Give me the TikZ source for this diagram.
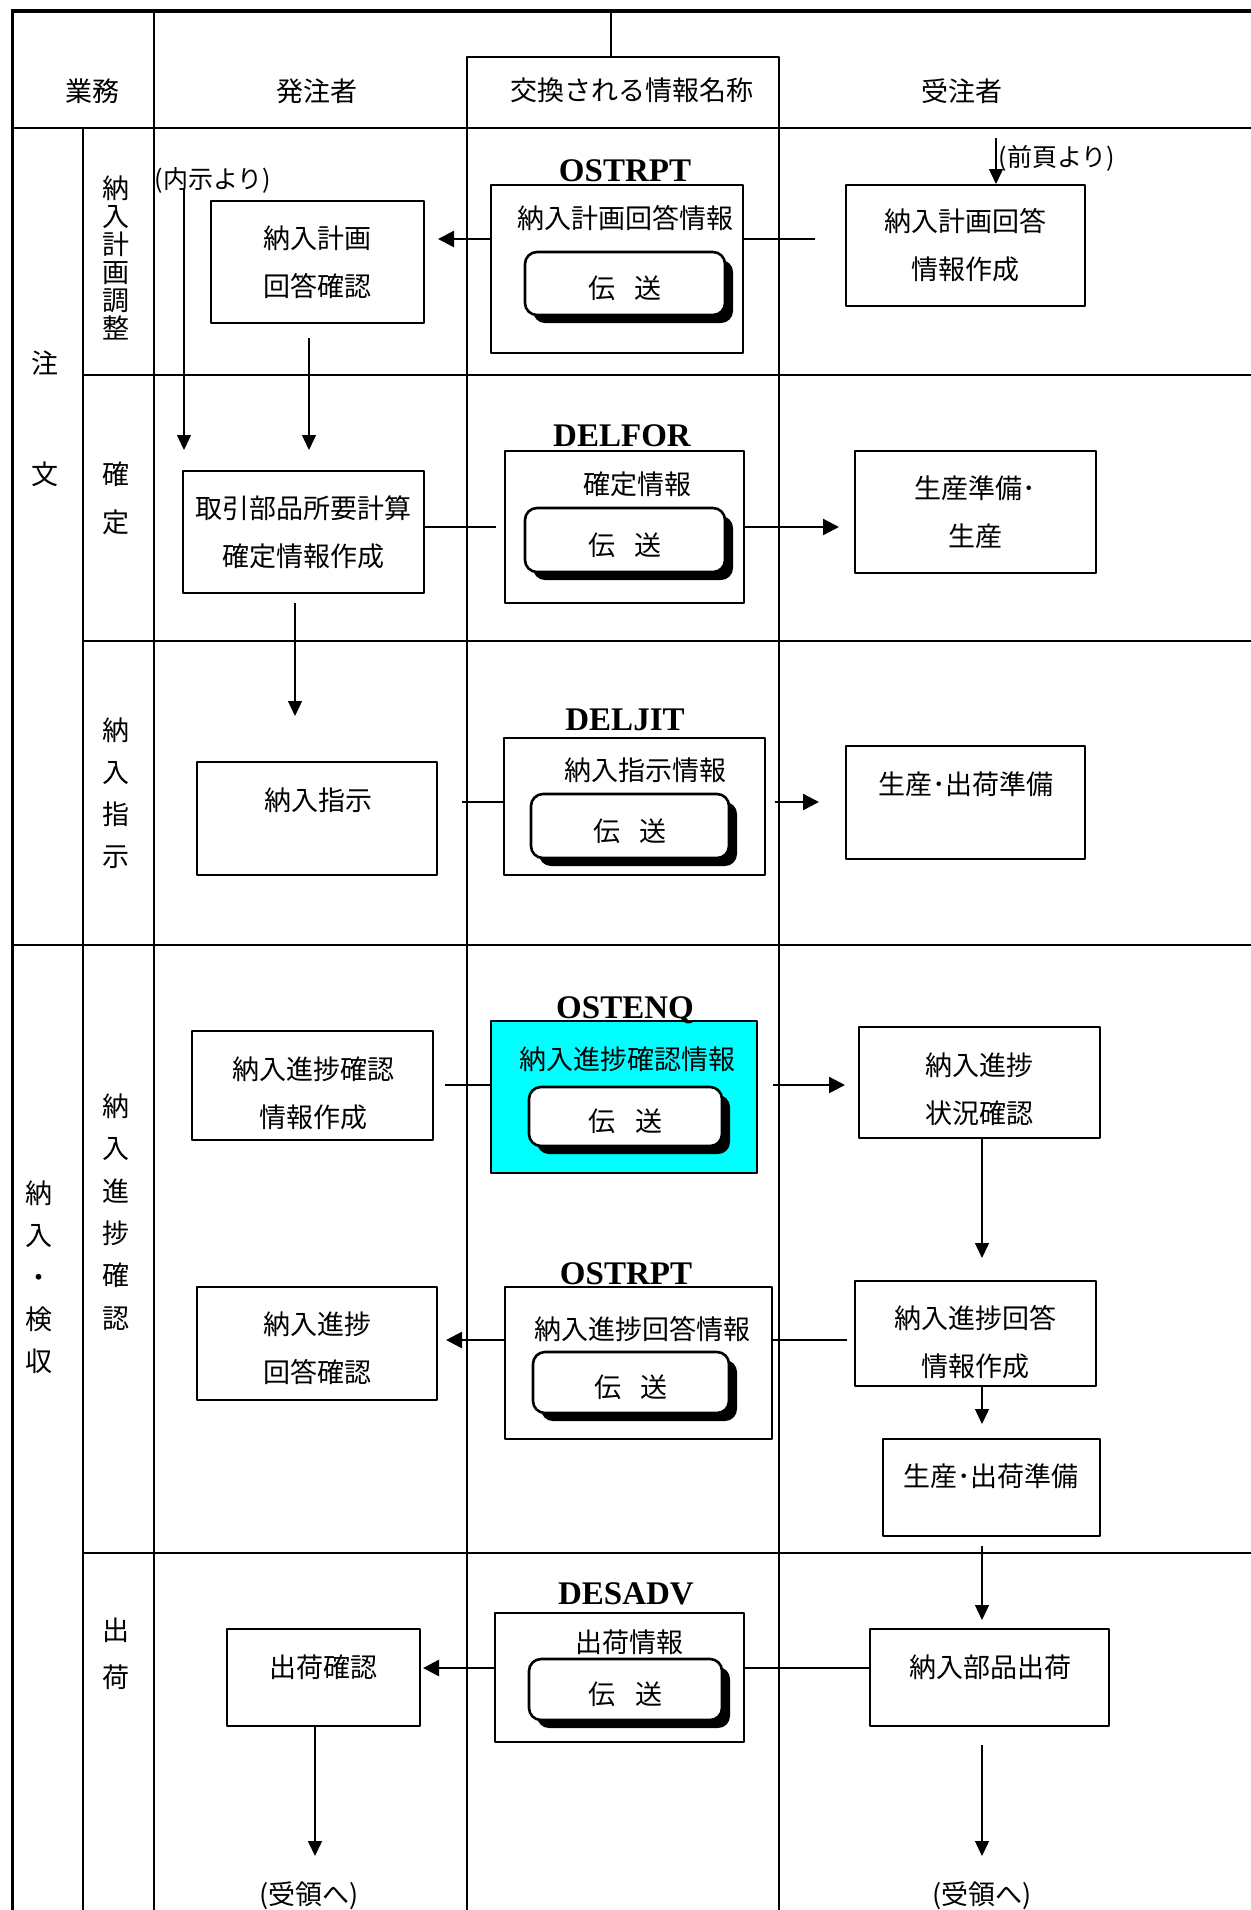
\documentclass[tikz,border=0pt]{standalone}
\usepackage{fontspec}
\newfontfamily\jfont{Noto Sans CJK JP}
\newfontfamily\efont{Liberation Serif}
\usetikzlibrary{arrows.meta,shadows}
\definecolor{infocyan}{RGB}{0,255,255}
\newcommand\sendtext{\raisebox{-2.6bp}[\height][\depth]{伝\hspace{10bp}送}}
\tikzset{
  jtext/.style={font=\jfont\fontsize{13.5bp}{24bp}\selectfont,align=center,inner sep=0pt},
  ptext/.style={font=\jfont\fontsize{12.5bp}{14bp}\selectfont,inner sep=0pt},
  vlabel/.style={font=\jfont\fontsize{13.5bp}{#1}\selectfont,align=center,inner sep=0pt},
  msgname/.style={font=\efont\bfseries\fontsize{16.5bp}{18bp}\selectfont,inner sep=0pt,text height=11.5bp,text depth=0pt},
  procbox/.style={draw,line width=1bp,inner sep=0pt},
  infobox/.style={draw,line width=0.7bp,inner sep=0pt},
  sendbox/.style={jtext,draw,line width=1.3bp,fill=white,rounded corners=6bp,
    drop shadow={shadow xshift=4bp,shadow yshift=-4bp,fill=black,opacity=1}},
  flow/.style={line width=1.2bp,>={Triangle[length=8bp,width=8bp]}},
  downflow/.style={line width=0.7bp,>={Triangle[length=7.5bp,width=7bp]}},
  tabline/.style={line width=0.8bp},
  rowline/.style={line width=1.2bp},
}
\begin{document}
\begin{tikzpicture}[x=1bp,y=-1bp,>=latex,line join=bevel]
\useasboundingbox (0,0) rectangle (625.5,955);
%% table frame
\draw[line width=2bp] (5.25,5.5) -- (625.5,5.5);
\draw[line width=1.5bp] (6,4.5) -- (6,955);
\draw[rowline] (6,64) -- (625.5,64);
\draw[tabline] (77,5.5) -- (77,955);
\draw[tabline] (305.5,5.5) -- (305.5,28.5);
\draw[tabline] (233.5,955) -- (233.5,28.5) -- (389.5,28.5) -- (389.5,955);
\draw[tabline] (41.5,64) -- (41.5,955);
\draw[rowline] (41.5,187.5) -- (625.5,187.5);
\draw[rowline] (41.5,320.5) -- (625.5,320.5);
\draw[rowline] (6,472.5) -- (625.5,472.5);
\draw[rowline] (41.5,776.5) -- (625.5,776.5);
%% header
\node (node_h0) at (46,45.5) [jtext] {業務};
\node (node_h1) at (158.5,45.5) [jtext] {発注者};
\node (node_h2) at (316,45) [jtext] {交換される情報名称};
\node (node_h3) at (481,45.5) [jtext] {受注者};
%% left labels
\node (node_l0) at (22.5,209.25) [vlabel=55.5bp] {注\\文};
\node (node_l1) at (19.5,638.5) [vlabel=21bp] {納\\入\\・\\検\\収};
\node (node_l2) at (58,129) [vlabel=14bp] {納\\入\\計\\画\\調\\整};
\node (node_l3) at (58,249) [vlabel=24bp] {確\\定};
\node (node_l4) at (58,396.75) [vlabel=21bp] {納\\入\\指\\示};
\node (node_l5) at (58,606) [vlabel=21.2bp] {納\\入\\進\\捗\\確\\認};
\node (node_l6) at (58,826.75) [vlabel=23.5bp] {出\\荷};
%% row 1
\node (node_info1) at (308.5,134.5) [infobox,minimum width=126bp,minimum height=84bp] {};
\node (node_msg1) at (312.5,85) [msgname] {OSTRPT};
\node (node_t1) at (312.5,109) [jtext] {納入計画回答情報};
\node (node_send1) at (312.5,141.75) [sendbox,minimum width=100bp,minimum height=31.5bp] {\sendtext};
\node (node_box1) at (158.75,131) [procbox,minimum width=106.5bp,minimum height=61bp,jtext] {納入計画\\回答確認};
\node (node_box2) at (482.75,122.75) [procbox,minimum width=119.5bp,minimum height=60.5bp,jtext] {納入計画回答\\情報作成};
\node (node_prev) at (528.5,79) [ptext] {(前頁より)};
\node (node_naiji) at (106.5,90) [ptext] {(内示より)};
\coordinate (node_c1) at (407.5,119.5);
\draw[flow] (node_c1) -- (node_c1 -| node_info1.east);
\draw[flow,->,shorten >=6.5bp] (node_c1 -| node_info1.west) -- (node_c1 -| node_box1.east);
\coordinate (node_c3) at (498,69);
\draw[downflow,->] (node_c3) -- (node_c3 |- node_box2.north);
\coordinate (node_c4) at (92,94);
\coordinate (node_c5) at (92,225);
\draw[downflow,->] (node_c4) -- (node_c5);
\coordinate (node_c6) at (154.5,225);
\draw[downflow,->,shorten <=7bp] (node_c6 |- node_box1.south) -- (node_c6);
%% row 2
\node (node_info2) at (312.25,263.5) [infobox,minimum width=119.5bp,minimum height=76bp] {};
\node (node_msg2) at (311,217.5) [msgname] {DELFOR};
\node (node_t2) at (318.5,242) [jtext] {確定情報};
\node (node_send2) at (312.5,270) [sendbox,minimum width=100bp,minimum height=32bp] {\sendtext};
\node (node_box3) at (151.75,266) [procbox,minimum width=120.5bp,minimum height=61bp,jtext] {取引部品所要計算\\確定情報作成};
\node (node_box4) at (487.75,256) [procbox,minimum width=120.5bp,minimum height=61bp,jtext] {生産準備･\\生産};
\coordinate (node_c2) at (248,263.5);
\draw[flow] (node_c2 -| node_box3.east) -- (node_c2);
\draw[flow,->,shorten >=7.5bp] (node_info2.east) -- (node_info2.east -| node_box4.west);
\coordinate (node_c7) at (147.5,358);
\draw[downflow,->,shorten <=4.5bp] (node_c7 |- node_box3.south) -- (node_c7);
%% row 3
\node (node_info3) at (317.25,403.25) [infobox,minimum width=130.5bp,minimum height=68.5bp] {};
\node (node_msg3) at (312.5,359.5) [msgname] {DELJIT};
\node (node_t3) at (322.5,385) [jtext] {納入指示情報};
\node (node_send3) at (315,413) [sendbox,minimum width=99bp,minimum height=32bp] {\sendtext};
\node (node_box5) at (158.5,409.25) [procbox,minimum width=120bp,minimum height=56.5bp] {};
\node (node_t5) at (159,400) [jtext] {納入指示};
\node (node_box6) at (482.75,401.25) [procbox,minimum width=119.5bp,minimum height=56.5bp] {};
\node (node_t6) at (483,392) [jtext] {生産･出荷準備};
\coordinate (node_c8) at (231,401);
\draw[flow] (node_c8) -- (node_c8 -| node_info3.west);
\draw[flow,->,shorten <=4.5bp,shorten >=13bp] (node_c8 -| node_info3.east) -- (node_c8 -| node_box6.west);
%% row 4
\node (node_info4) at (312,548.5) [infobox,fill=infocyan,minimum width=133bp,minimum height=76bp] {};
\node (node_msg4) at (312.5,503.5) [msgname] {OSTENQ};
\node (node_t4) at (313.5,529.5) [jtext] {納入進捗確認情報};
\node (node_send4) at (312.75,558.25) [sendbox,minimum width=96.5bp,minimum height=29.5bp] {\sendtext};
\node (node_box7) at (156.25,542.75) [procbox,minimum width=120.5bp,minimum height=54.5bp] {};
\node (node_t12) at (156.5,546.5) [jtext] {納入進捗確認\\情報作成};
\node (node_box8) at (489.75,541.25) [procbox,minimum width=120.5bp,minimum height=55.5bp] {};
\node (node_t13) at (489.75,544.5) [jtext] {納入進捗\\状況確認};
\coordinate (node_c9) at (222.5,542.5);
\draw[flow] (node_c9) -- (node_c9 -| node_info4.west);
\draw[flow,->,shorten <=7.5bp,shorten >=6.5bp] (node_c9 -| node_info4.east) -- (node_c9 -| node_box8.west);
\coordinate (node_c10) at (491,629);
\draw[downflow,->] (node_c10 |- node_box8.south) -- (node_c10);
\node (node_info5) at (319.25,681.5) [infobox,minimum width=133.5bp,minimum height=76bp] {};
\node (node_msg5) at (313,636.5) [msgname] {OSTRPT};
\node (node_t7) at (321,664.5) [jtext] {納入進捗回答情報};
\node (node_send5) at (315.5,691.25) [sendbox,minimum width=98bp,minimum height=30.5bp] {\sendtext};
\node (node_box9) at (158.5,671.75) [procbox,minimum width=120bp,minimum height=56.5bp] {};
\node (node_t14) at (158.5,674) [jtext] {納入進捗\\回答確認};
\node (node_box10) at (487.75,666.75) [procbox,minimum width=120.5bp,minimum height=52.5bp] {};
\node (node_t15) at (487.75,671) [jtext] {納入進捗回答\\情報作成};
\node (node_box11) at (495.75,743.75) [procbox,minimum width=108.5bp,minimum height=48.5bp] {};
\node (node_t8) at (495.5,738) [jtext] {生産･出荷準備};
\coordinate (node_c11) at (423.5,670);
\draw[flow] (node_c11) -- (node_c11 -| node_info5.east);
\draw[flow,->,shorten >=4bp] (node_c11 -| node_info5.west) -- (node_c11 -| node_box9.east);
\coordinate (node_c12) at (491,712);
\draw[downflow,->] (node_c12 |- node_box10.south) -- (node_c12);
\coordinate (node_c13) at (491,810);
\draw[downflow,->,shorten <=4.5bp] (node_c13 |- node_box11.south) -- (node_c13);
%% row 5
\node (node_info6) at (309.75,838.75) [infobox,minimum width=124.5bp,minimum height=64.5bp] {};
\node (node_msg6) at (313,796.5) [msgname] {DESADV};
\node (node_t9) at (314.5,821) [jtext] {出荷情報};
\node (node_send6) at (312.75,844.75) [sendbox,minimum width=96.5bp,minimum height=30.5bp] {\sendtext};
\node (node_box13) at (161.75,838.75) [procbox,minimum width=96.5bp,minimum height=48.5bp] {};
\node (node_t10) at (161.5,833.5) [jtext] {出荷確認};
\node (node_box12) at (494.75,838.75) [procbox,minimum width=119.5bp,minimum height=48.5bp] {};
\node (node_t11) at (495,833.5) [jtext] {納入部品出荷};
\coordinate (node_c14) at (211.5,834);
\draw[flow,->] (node_c14 -| node_info6.west) -- (node_c14);
\draw[flow] (node_c14 -| node_info6.east) -- (node_c14 -| node_box12.west);
\coordinate (node_c15) at (157.5,928);
\draw[downflow,->] (node_c15 |- node_box13.south) -- (node_c15);
\coordinate (node_c16) at (491,928);
\draw[downflow,->,shorten <=9bp] (node_c16 |- node_box12.south) -- (node_c16);
\node (node_end1) at (154.5,948) [jtext] {(受領へ)};
\node (node_end2) at (491,948) [jtext] {(受領へ)};
%
\end{tikzpicture}
\end{document}
